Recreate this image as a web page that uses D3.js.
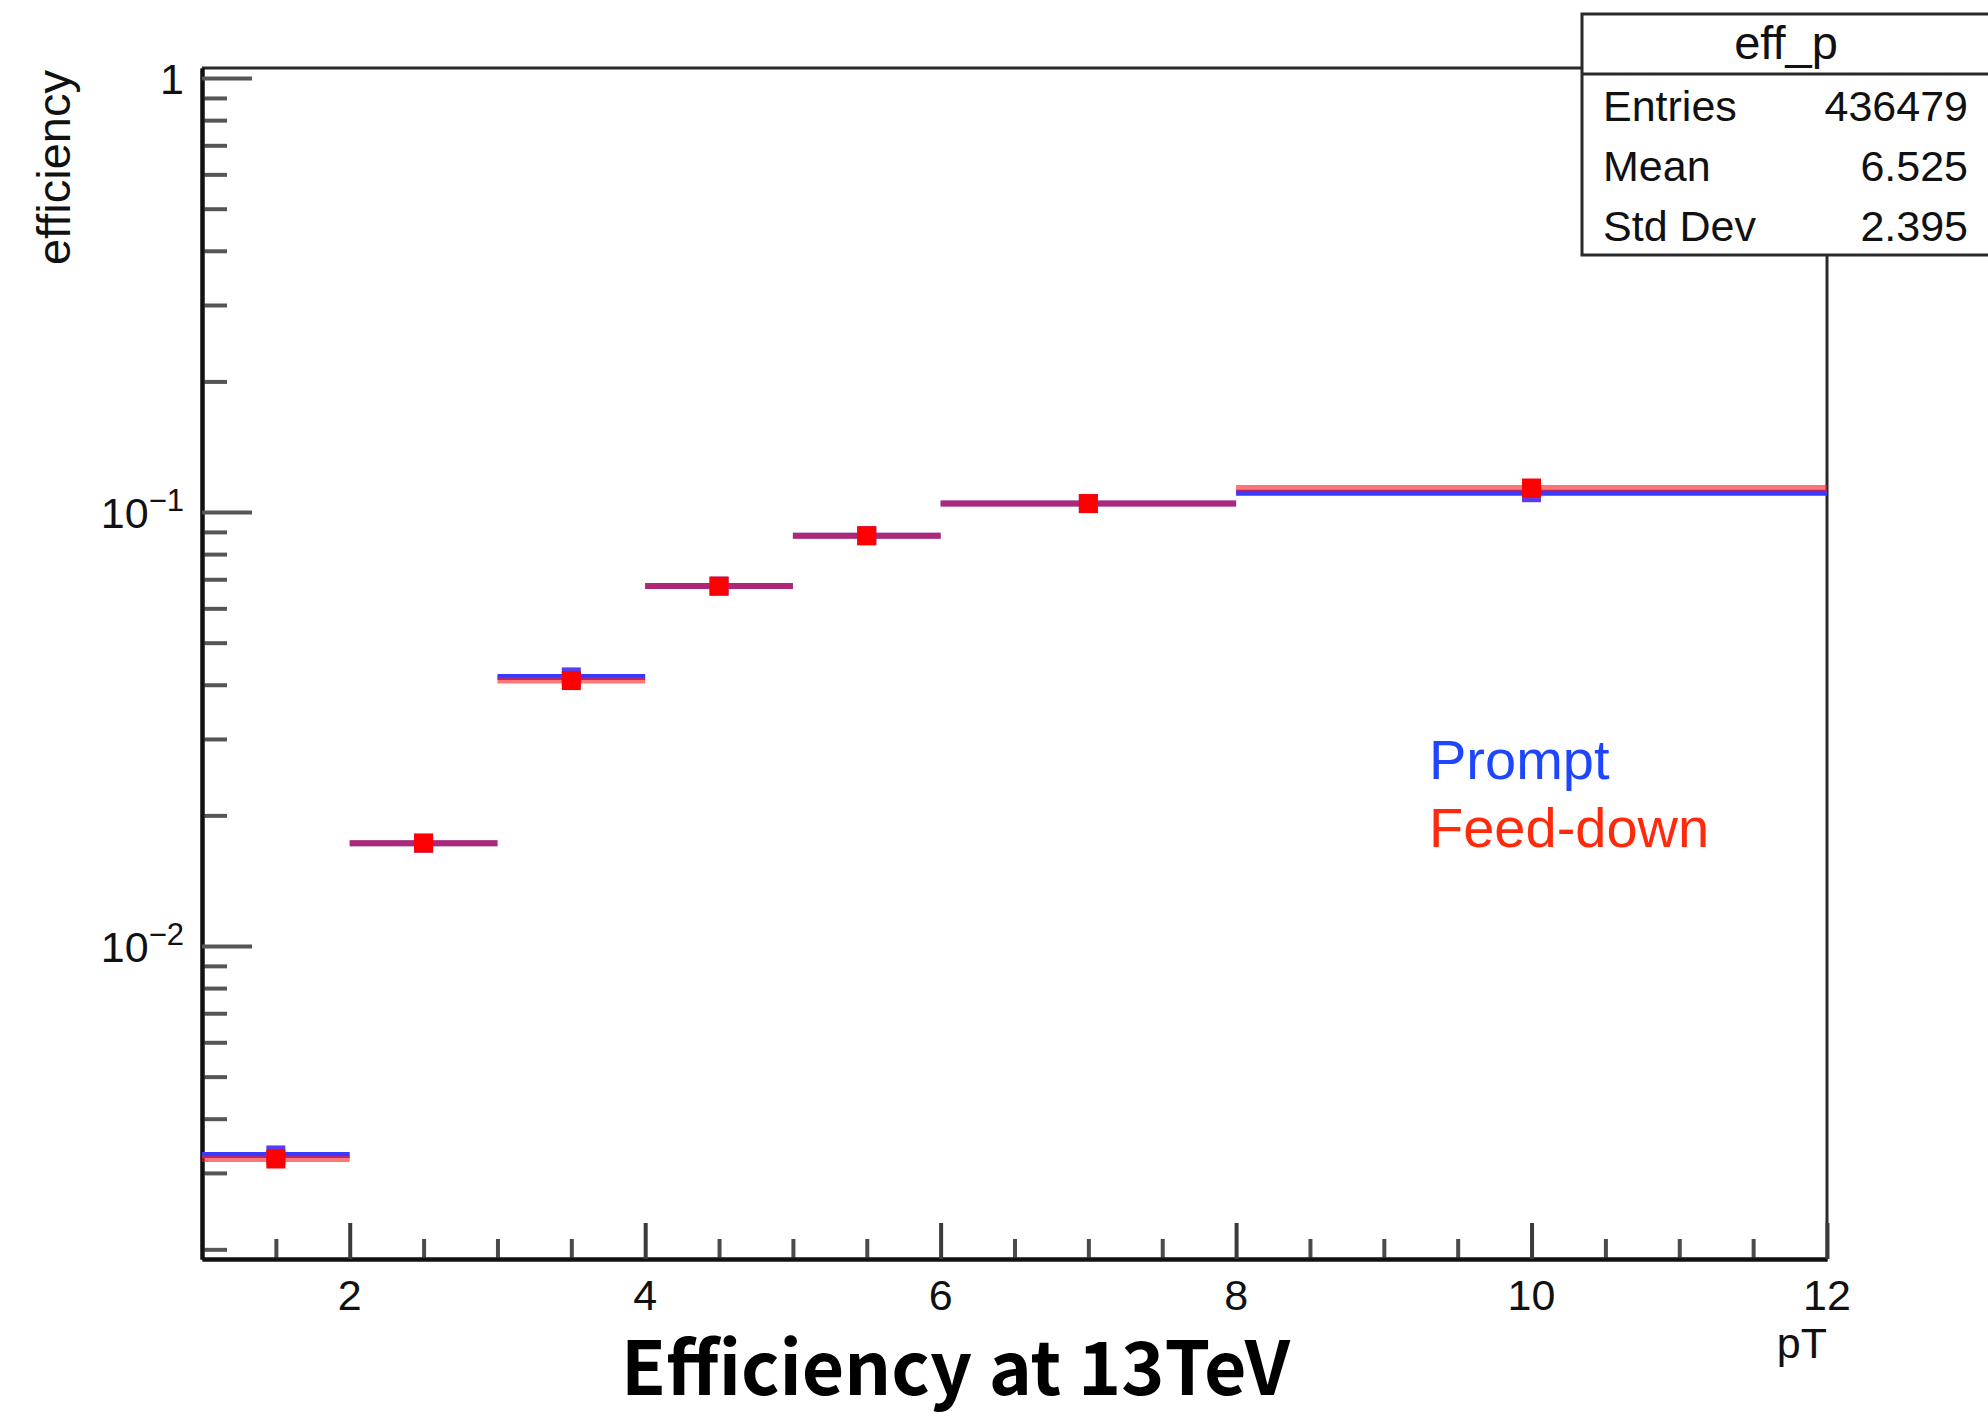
<!DOCTYPE html>
<html>
<head>
<meta charset="utf-8">
<script src="https://cdn.jsdelivr.net/npm/d3@7"></script>
<style>
  html, body { margin: 0; padding: 0; background: #ffffff; }
  svg { display: block; }
  text { font-family: "Liberation Sans", Arial, Helvetica, sans-serif; }
  text.caption { font-family: "Noto Sans CJK KR", "Noto Sans", sans-serif; font-weight: 700; }
</style>
</head>
<body>
<svg id="chart" width="1988" height="1412"></svg>
<script>
// pT bin edges and the efficiency in each bin
const binEdges = [1, 2, 3, 4, 5, 6, 8, 12];
const promptEff = [0.00330, 0.01726, 0.0417, 0.0675, 0.0882, 0.1046, 0.1108];
const feedDownEff = [0.00323, 0.01726, 0.0409, 0.0675, 0.0882, 0.1046, 0.1136];

// axis ticks
const xMajorTicks = [2, 4, 6, 8, 10, 12];
const xMinorTicks = [1.5, 2.5, 3, 3.5, 4.5, 5, 5.5, 6.5, 7, 7.5, 8.5, 9, 9.5, 10.5, 11, 11.5];
const yMajorTicks = [1, 0.1, 0.01];
const yMajorLabels = [["1", ""], ["10", "\u22121"], ["10", "\u22122"]];
const yMinorTicks = [0.002, 0.003, 0.004, 0.005, 0.006, 0.007, 0.008, 0.009,
                     0.02, 0.03, 0.04, 0.05, 0.06, 0.07, 0.08, 0.09,
                     0.2, 0.3, 0.4, 0.5, 0.6, 0.7, 0.8, 0.9];

// stats box contents
const statsTitle = "eff_p";
const statsNames = ["Entries", "Mean", "Std Dev"];
const statsValues = ["436479", "6.525", "2.395"];

// legend entries
const legendNames = ["Prompt", "Feed-down"];
const legendColors = ["#1e46ff", "#ff2a0c"];

(function draw() {
  const svg = d3.select("#chart");
  const pL = 202, pR = 1827, pT = 68, pB = 1259;

  const x = d3.scaleLinear().domain([1, 12]).range([pL, pR]);
  const y = d3.scaleLog().domain([0.0019, 1.055]).range([pB, pT]);

  // frame (top and right edges)
  svg.append("path")
    .attr("d", `M${pL},${pT}H${pR}V${pB}`)
    .attr("fill", "none").attr("stroke", "#2a2a2a").attr("stroke-width", 3);

  function styleAxis(g, tickColor) {
    g.selectAll(".tick line").attr("stroke", tickColor).attr("stroke-width", 4);
    g.selectAll(".tick text").remove();
    g.select(".domain").attr("stroke", "#111").attr("stroke-width", 4);
  }

  // y axis: minor then major ticks, pointing into the frame
  svg.append("g").attr("transform", `translate(${pL},0)`)
    .call(d3.axisRight(y).tickValues(yMinorTicks).tickSize(25).tickSizeOuter(0).tickFormat(""))
    .call(g => styleAxis(g, "#555"));
  svg.append("g").attr("transform", `translate(${pL},0)`)
    .call(d3.axisRight(y).tickValues(yMajorTicks).tickSize(50).tickSizeOuter(0).tickFormat(""))
    .call(g => styleAxis(g, "#555"));

  // x axis ticks pointing up
  svg.append("g").attr("transform", `translate(0,${pB})`)
    .call(d3.axisTop(x).tickValues(xMinorTicks).tickSize(20).tickSizeOuter(0).tickFormat(""))
    .call(g => styleAxis(g, "#4a4a4a"));
  svg.append("g").attr("transform", `translate(0,${pB})`)
    .call(d3.axisTop(x).tickValues(xMajorTicks).tickSize(36).tickSizeOuter(0).tickFormat(""))
    .call(g => styleAxis(g, "#3a3a3a"));

  // x tick labels
  svg.append("g").selectAll("text").data(xMajorTicks).join("text")
    .attr("x", d => x(d)).attr("y", 1310)
    .attr("text-anchor", "middle").attr("font-size", 43).attr("fill", "#111")
    .text(d => d);

  // y tick labels with superscript exponents
  const yl = svg.append("g").selectAll("text").data(yMajorTicks).join("text")
    .attr("x", 184).attr("y", d => y(d) + 16)
    .attr("text-anchor", "end").attr("font-size", 43).attr("fill", "#111");
  yl.append("tspan").text((d, i) => yMajorLabels[i][0]);
  yl.append("tspan").attr("dy", -17).attr("font-size", 31).text((d, i) => yMajorLabels[i][1]);

  // axis titles
  svg.append("text")
    .attr("transform", "translate(70,70) rotate(-90)")
    .attr("text-anchor", "end").attr("font-size", 47).attr("fill", "#111")
    .text("efficiency");
  svg.append("text")
    .attr("x", pR).attr("y", 1358)
    .attr("text-anchor", "end").attr("font-size", 43).attr("fill", "#111")
    .text("pT");

  // histogram bins: horizontal bar across each bin plus a square marker at the centre
  const bins = d3.range(promptEff.length).map(i => ({
    lo: binEdges[i], hi: binEdges[i + 1], mid: (binEdges[i] + binEdges[i + 1]) / 2,
    prompt: promptEff[i], feed: feedDownEff[i]
  }));
  const mk = 19;
  const gp = svg.append("g");
  gp.selectAll("line").data(bins).join("line")
    .attr("x1", d => x(d.lo)).attr("x2", d => x(d.hi))
    .attr("y1", d => y(d.prompt)).attr("y2", d => y(d.prompt))
    .attr("stroke", "#3a3aff").attr("stroke-width", 6);
  gp.selectAll("rect").data(bins).join("rect")
    .attr("x", d => x(d.mid) - mk / 2).attr("y", d => y(d.prompt) - mk / 2)
    .attr("width", mk).attr("height", mk).attr("fill", "#5a3cf0");
  const gf = svg.append("g");
  gf.selectAll("line").data(bins).join("line")
    .attr("x1", d => x(d.lo)).attr("x2", d => x(d.hi))
    .attr("y1", d => y(d.feed)).attr("y2", d => y(d.feed))
    .attr("stroke", "#ff1a1a").attr("stroke-opacity", 0.6).attr("stroke-width", 6);
  gf.selectAll("rect").data(bins).join("rect")
    .attr("x", d => x(d.mid) - mk / 2).attr("y", d => y(d.feed) - mk / 2)
    .attr("width", mk).attr("height", mk).attr("fill", "#ff0000");

  // legend
  svg.append("g").selectAll("text").data(legendNames).join("text")
    .attr("x", 1429).attr("y", (d, i) => 779 + i * 68)
    .attr("font-size", 56).attr("fill", (d, i) => legendColors[i])
    .text(d => d);

  // statistics box
  const sb = svg.append("g");
  sb.append("rect").attr("x", 1582).attr("y", 14).attr("width", 420).attr("height", 241)
    .attr("fill", "#fff").attr("stroke", "#2a2a2a").attr("stroke-width", 3);
  sb.append("line").attr("x1", 1582).attr("x2", 1988).attr("y1", 74).attr("y2", 74)
    .attr("stroke", "#2a2a2a").attr("stroke-width", 3);
  sb.append("text").attr("x", 1786).attr("y", 59).attr("text-anchor", "middle")
    .attr("font-size", 47).attr("fill", "#111").text(statsTitle);
  sb.selectAll("text.name").data(statsNames).join("text").attr("class", "name")
    .attr("x", 1603).attr("y", (d, i) => 121 + i * 60)
    .attr("font-size", 43).attr("fill", "#111").text(d => d);
  sb.selectAll("text.val").data(statsValues).join("text").attr("class", "val")
    .attr("x", 1968).attr("y", (d, i) => 121 + i * 60).attr("text-anchor", "end")
    .attr("font-size", 43).attr("fill", "#111").text(d => d);

  // caption under the plot
  svg.append("text").attr("class", "caption")
    .attr("x", 621).attr("y", 1395)
    .attr("font-size", 74).attr("fill", "#000")
    .attr("textLength", 669).attr("lengthAdjust", "spacingAndGlyphs")
    .text("Efficiency at 13TeV");
})();
</script>
</body>
</html>
